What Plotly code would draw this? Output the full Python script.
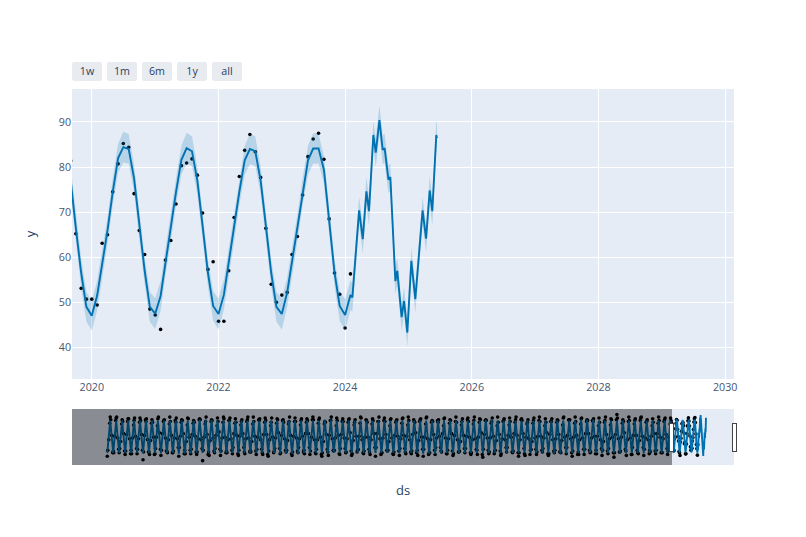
import pandas as pd
import plotly.graph_objects as go

# visible window
obs_start = "2019-09-01"
obs_y = [81.4, 65.2, 53.1, 50.7,
         50.7, 49.4, 63.1, 65.0, 74.5, 80.7, 85.2, 84.4, 74.1, 65.9, 60.6, 48.5,
         47.2, 44.0, 59.4, 63.7, 71.8, 80.3, 80.9, 81.8, 78.2, 69.8, 57.3, 59.0,
         45.8, 45.8, 57.0, 68.8, 77.9, 83.7, 87.2, 83.4, 77.7, 66.4, 54.0, 50.0,
         51.6, 52.2, 60.6, 64.6, 73.8, 82.3, 86.2, 87.5, 81.7, 68.5, 56.5, 51.8,
         44.3, 56.3]
fit_y = [77.2, 66.5, 56.5, 49.0,
         47.0, 51.5, 58.5, 66.0, 74.5, 82.0, 84.4, 84.0, 77.5, 67.0, 57.0, 49.0,
         47.5, 51.4, 59.0, 66.5, 74.5, 81.6, 84.2, 83.5, 77.0, 67.0, 56.5, 49.2,
         47.4, 51.7, 59.0, 66.5, 74.5, 81.5, 84.0, 83.5, 77.0, 67.0, 56.5, 49.0,
         47.4, 52.2, 59.0, 66.5, 74.5, 81.5, 84.1, 84.1, 79.4, 68.5, 56.6, 49.2,
         47.2, 51.6]
fit_band = [3.0, 3.0, 3.2, 3.3,
            3.3, 3.3, 3.0, 3.0, 3.0, 3.2, 3.4, 3.3, 3.0, 3.0, 3.0, 3.3,
            3.4, 3.3, 3.0, 3.0, 3.0, 3.2, 3.4, 3.3, 3.0, 3.0, 3.0, 3.3,
            3.4, 3.3, 3.0, 3.0, 3.0, 3.2, 3.4, 3.3, 3.0, 3.0, 3.0, 3.3,
            3.5, 3.3, 3.0, 3.0, 3.0, 3.2, 3.4, 3.3, 3.0, 3.0, 3.0, 3.3,
            3.5, 3.3]

# forecast dates are not evenly spaced
fc_ds = ["2024-02-12", "2024-03-22", "2024-04-12", "2024-05-03", "2024-05-18", "2024-06-12",
         "2024-06-26", "2024-07-17", "2024-08-05", "2024-08-16", "2024-09-07", "2024-09-18",
         "2024-10-17", "2024-10-28", "2024-11-22", "2024-12-06", "2024-12-25", "2025-01-17",
         "2025-02-09", "2025-03-23", "2025-04-12", "2025-05-03", "2025-05-18", "2025-06-10",
         "2025-06-14"]
fc_y = [51.1, 70.4, 64.0, 74.6, 70.2, 87.1, 83.2, 90.4, 83.8, 84.2, 77.2, 77.8,
        54.7, 57.0, 46.7, 50.3, 43.3, 59.2, 50.7, 70.4, 64.1, 74.8, 70.2, 87.1, 86.4]
fc_band = [3.2, 3.0, 3.2, 3.2, 3.2, 3.0, 3.2, 3.3, 3.2, 3.2, 3.0, 3.0,
           3.0, 3.0, 3.0, 3.0, 3.1, 3.0, 3.0, 3.0, 3.0, 3.2, 3.2, 3.2, 3.2]

# older history only shows in the slider, so these are rough estimates (1925 onward)
hist_jan = [43, 49, 47, 45, 50, 46, 39, 48, 46, 44, 49, 47, 43, 50, 46, 45, 38, 48, 47, 44,
            49, 46, 44, 48, 50, 45, 47, 43, 49, 46, 48, 44, 47, 50, 45, 46, 43, 48, 49, 45,
            47, 44, 50, 46, 48, 43, 47, 49, 45, 44, 48, 46, 50, 43, 47, 45, 49, 46, 44, 48,
            47, 45, 50, 42, 46, 49, 44, 48, 47, 43, 46, 50, 45, 48, 44, 47, 49, 46, 43, 48,
            45, 47, 50, 44, 46, 42, 48, 49, 45, 47, 44, 50, 46, 48, 45]
hist_feb = [50, 47, 52, 49, 46, 51, 48, 45, 52, 50, 47, 49, 53, 46, 51, 48, 50, 44, 52, 49,
            47, 53, 50, 46, 48, 51, 45, 49, 52, 47, 50, 48, 53, 46, 49, 51, 47, 44, 50, 52,
            48, 46, 51, 49, 45, 53, 47, 50, 48, 52, 46, 49, 44, 51, 47, 53, 48, 50, 46, 49,
            52, 47, 45, 51, 48, 50, 46, 53, 49, 47, 44, 51, 48, 52, 46, 50, 47, 53, 49, 45,
            51, 48, 46, 50, 52, 47, 49, 44, 53, 46, 51, 48, 50, 47, 49]
hist_apr = [62, 66, 60, 68, 64, 63, 67, 61, 65, 69, 62, 64, 66, 60, 68, 63, 65, 61, 67, 64,
            62, 69, 66, 63, 60, 65, 68, 62, 64, 67, 61, 66, 63, 69, 65, 62, 60, 67, 64, 68,
            63, 61, 66, 65, 62, 69, 64, 60, 67, 63, 66, 68, 61, 65, 62, 64, 69, 63, 67, 60,
            66, 62, 65, 68, 64, 61, 63, 67, 69, 62, 65, 60, 66, 64, 68, 63, 61, 67, 65, 62,
            69, 64, 66, 60, 63, 68, 65, 62, 67, 61, 64, 66, 69, 63, 65]
hist_jun = [81, 84, 80, 83, 79, 82, 85, 81, 78, 83, 80, 84, 82, 79, 81, 85, 80, 83, 78, 82,
            84, 81, 79, 83, 80, 85, 82, 78, 81, 84, 80, 83, 79, 82, 85, 81, 80, 84, 78, 83,
            82, 79, 81, 85, 80, 83, 84, 78, 82, 81, 79, 85, 83, 80, 82, 84, 78, 81, 83, 79,
            85, 80, 82, 84, 81, 78, 83, 79, 82, 85, 80, 81, 84, 78, 83, 82, 79, 85, 81, 80,
            83, 84, 78, 82, 79, 85, 81, 83, 80, 84, 82, 78, 81, 83, 80]
hist_jul = [88, 87, 85, 86, 84, 87, 83, 85, 86, 84, 88, 82, 85, 87, 84, 86, 83, 85, 87, 88,
            84, 86, 83, 85, 88, 84, 87, 82, 86, 85, 83, 87, 84, 86, 88, 85, 83, 84, 87, 86,
            85, 82, 88, 84, 86, 83, 87, 85, 84, 86, 88, 83, 85, 87, 84, 82, 86, 85, 88, 83,
            87, 84, 86, 85, 83, 88, 84, 87, 85, 86, 82, 84, 88, 86, 83, 85, 87, 84, 88, 86,
            85, 83, 87, 84, 86, 91, 85, 88, 84, 87, 83, 86, 88, 85, 87]
hist_aug = [85, 88, 83, 86, 87, 84, 86, 82, 88, 85, 83, 87, 84, 86, 82, 85, 88, 84, 83, 86,
            87, 82, 85, 88, 83, 86, 84, 87, 85, 82, 88, 83, 86, 84, 85, 87, 82, 88, 84, 83,
            86, 85, 87, 82, 84, 88, 83, 86, 85, 87, 84, 82, 86, 88, 83, 85, 87, 84, 82, 86,
            83, 88, 85, 84, 87, 82, 86, 83, 88, 84, 85, 87, 83, 82, 86, 84, 88, 85, 83, 87,
            84, 86, 82, 88, 85, 87, 83, 84, 86, 88, 85, 82, 84, 87, 84]
hist_oct = [67, 64, 69, 63, 66, 68, 62, 65, 70, 64, 67, 63, 69, 65, 66, 62, 68, 64, 71, 65,
            63, 67, 69, 64, 66, 62, 68, 65, 70, 63, 67, 64, 66, 69, 62, 65, 68, 63, 67, 64,
            70, 66, 62, 65, 69, 63, 68, 64, 66, 67, 62, 70, 65, 63, 68, 66, 64, 69, 62, 67,
            65, 63, 70, 64, 66, 68, 62, 65, 67, 69, 63, 64, 66, 70, 62, 68, 65, 63, 67, 64,
            69, 66, 62, 68, 65, 63, 70, 64, 67, 66, 62, 69, 65, 68]
hist_dec = [47, 51, 49, 46, 52, 50, 48, 45, 51, 49, 47, 53, 46, 50, 48, 52, 45, 49, 51, 47,
            50, 46, 53, 48, 49, 51, 45, 47, 52, 50, 46, 49, 48, 53, 47, 45, 51, 50, 46, 52,
            49, 48, 47, 51, 53, 45, 50, 46, 49, 52, 48, 47, 51, 45, 50, 53, 46, 49, 48, 52,
            47, 51, 45, 50, 46, 49, 53, 48, 47, 52, 45, 51, 50, 46, 49, 48, 53, 47, 45, 51,
            50, 46, 52, 49, 47, 48, 51, 45, 50, 53, 46, 49, 47, 52]
fit_jan = [47, 47, 47, 47, 47, 47, 47, 47, 47, 47, 47, 47, 46, 46, 46, 47, 47, 47, 47, 47,
           47, 47, 47, 47, 47, 47, 47, 47, 47, 46, 46, 46, 46, 47, 47, 47, 47, 47, 47, 47,
           47, 47, 47, 47, 47, 47, 47, 47, 47, 47, 47, 47, 47, 46, 46, 46, 46, 47, 47, 47,
           47, 47, 47, 47, 47, 47, 47, 47, 47, 47, 47, 47, 47, 47, 47, 46, 46, 46, 47, 47,
           47, 47, 47, 47, 47, 47, 47, 47, 47, 47, 47, 47, 47, 47, 47]
fit_jul = [84, 84, 84, 84, 84, 84, 84, 84, 84, 84, 84, 84, 84, 84, 84, 85, 85, 85, 84, 84,
           84, 84, 84, 84, 84, 84, 84, 84, 84, 84, 84, 84, 84, 84, 84, 84, 85, 85, 84, 84,
           84, 84, 84, 84, 84, 84, 84, 84, 84, 84, 84, 84, 84, 84, 84, 84, 84, 84, 84, 84,
           84, 84, 84, 85, 85, 84, 84, 84, 84, 84, 84, 84, 84, 84, 84, 84, 84, 84, 84, 85,
           85, 85, 84, 84, 84, 84, 84, 84, 84, 84, 84, 84, 84, 84, 84]

first_year = 1925
x_range = ["2019-09-09", "2030-02-21"]
slider_range = ["1919-02-01", "2030-02-21"]
y_range = [33, 97.3]

# put the history lists back in date order
hist_months = (("01", hist_jan), ("02", hist_feb), ("04", hist_apr), ("06", hist_jun),
               ("07", hist_jul), ("08", hist_aug), ("10", hist_oct), ("12", hist_dec))
hist_ds, hist_y = [], []
for i in range(len(hist_jan)):
    year = first_year + i
    for month, vals in hist_months:
        if i < len(vals) and f"{year}-{month}" < obs_start:
            hist_ds.append(f"{year}-{month}-01")
            hist_y.append(vals[i])

hist_fit_ds, hist_fit_y = [], []
for i in range(len(fit_jan)):
    year = first_year + i
    hist_fit_ds += [f"{year}-01-01", f"{year}-07-01"]
    hist_fit_y += [fit_jan[i], fit_jul[i]]

obs_ds = pd.date_range(obs_start, periods=len(obs_y), freq="MS").strftime("%Y-%m-%d").tolist()
band_ds = obs_ds + fc_ds
band_y = fit_y + fc_y
band_w = fit_band + fc_band
upper = [v + w for v, w in zip(band_y, band_w)]
lower = [v - w for v, w in zip(band_y, band_w)]

line_color = "#0072B2"
fill_color = "rgba(0, 114, 178, 0.2)"
tick_color = "#46566f"

fig = go.Figure()
fig.add_trace(go.Scatter(name="Actual", x=hist_ds + obs_ds, y=hist_y + obs_y, mode="markers",
                         marker=dict(color="black", size=3.6)))
fig.add_trace(go.Scatter(name="Predicted", x=hist_fit_ds + band_ds, y=hist_fit_y + band_y,
                         mode="lines", line=dict(color=line_color, width=1.9)))
fig.add_trace(go.Scatter(name="Band", x=band_ds + band_ds[::-1], y=upper + lower[::-1],
                         mode="lines", line=dict(width=0), fill="toself", fillcolor=fill_color,
                         hoverinfo="skip"))

fig.update_layout(
    showlegend=False,
    font=dict(size=10.7),
    margin=dict(l=64, r=64, t=81, b=64),
    yaxis=dict(title=dict(text="y", standoff=20), range=y_range, tickfont=dict(color=tick_color)),
    xaxis=dict(
        title="ds",
        type="date",
        range=x_range,
        tickfont=dict(color=tick_color),
        rangeselector=dict(bgcolor="#e8ebf0", buttons=[
            dict(count=7, label="1w", step="day", stepmode="backward"),
            dict(count=1, label="1m", step="month", stepmode="backward"),
            dict(count=6, label="6m", step="month", stepmode="backward"),
            dict(count=1, label="1y", step="year", stepmode="backward"),
            dict(step="all"),
        ]),
        rangeslider=dict(visible=True, range=slider_range, yaxis=dict(rangemode="match")),
    ),
)

fig.write_html("out.html")
